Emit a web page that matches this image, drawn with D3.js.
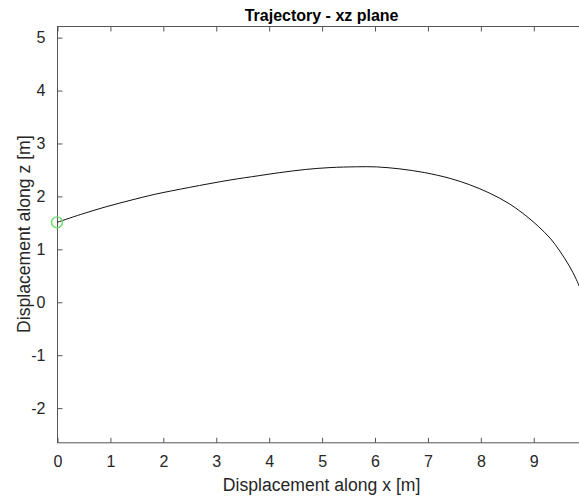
<!DOCTYPE html>
<html>
<head>
<meta charset="utf-8">
<script src="https://cdn.jsdelivr.net/npm/d3@7"></script>
<style>
  html, body { margin: 0; padding: 0; background: #fff; overflow: hidden; }
  svg { display: block; font-family: "Liberation Sans", Arial, Helvetica, sans-serif; }
</style>
</head>
<body>
<svg id="chart" width="579" height="500"></svg>
<script>
// Trajectory samples in the xz plane (metres)
const xValues = [0, 0.45, 0.91, 1.4, 1.85, 2.5, 3.27, 3.8, 4.21, 4.7, 5.16, 5.66, 6.04, 6.48, 6.95, 7.43, 7.8, 8.18, 8.55, 8.88, 9.1, 9.32, 9.5, 9.69, 9.8, 9.9];
const zValues = [1.5, 1.65, 1.79, 1.92, 2.03, 2.16, 2.30, 2.38, 2.44, 2.50, 2.535, 2.55, 2.548, 2.51, 2.44, 2.33, 2.21, 2.05, 1.85, 1.61, 1.42, 1.20, 0.96, 0.66, 0.45, 0.22];
const startPoint = [0, 1.5];

const xTicks = [0, 1, 2, 3, 4, 5, 6, 7, 8, 9];
const yTicks = [-2, -1, 0, 1, 2, 3, 4, 5];
const xDomain = [0, 10];
const yDomain = [-2.655, 5.21];

const titleText = "Trajectory - xz plane";
const xLabelText = "Displacement along x [m]";
const yLabelText = "Displacement along z [m]";

const svg = d3.select("#chart");
const box = { left: 57, right: 586.2, top: 26, bottom: 442.3 };

const x = d3.scaleLinear().domain(xDomain).range([box.left, box.right]);
const y = d3.scaleLinear().domain(yDomain).range([box.bottom, box.top]);

const axisColor = "#555";
const textColor = "#262626";
const tickLen = 5;
const fontStack = "'Liberation Sans', Arial, Helvetica, sans-serif";

svg.append("defs").append("clipPath").attr("id", "plotArea")
  .append("rect").attr("x", box.left).attr("y", box.top)
  .attr("width", box.right - box.left).attr("height", box.bottom - box.top);

// Axes box
svg.append("rect")
  .attr("x", box.left + 0.5).attr("y", box.top + 0.5)
  .attr("width", box.right - box.left).attr("height", box.bottom - box.top)
  .attr("fill", "none").attr("stroke", axisColor).attr("stroke-width", 1);

// Inward ticks, plain hyphen for negatives
const fmt = d => String(d);
const xBottom = d3.axisBottom(x).tickValues(xTicks).tickSizeInner(-tickLen).tickSizeOuter(0).tickPadding(13).tickFormat(fmt);
const xTop = d3.axisTop(x).tickValues(xTicks.concat([10])).tickSizeInner(-tickLen).tickSizeOuter(0).tickFormat("");
const yLeft = d3.axisLeft(y).tickValues(yTicks).tickSizeInner(-tickLen).tickSizeOuter(0).tickPadding(12).tickFormat(fmt);

function styleAxis(g) {
  g.select(".domain").remove();
  g.selectAll(".tick line").attr("stroke", axisColor);
  g.selectAll(".tick text").attr("fill", textColor)
    .style("font-size", "16px").style("font-family", fontStack);
}

svg.append("g").attr("transform", `translate(0.5,${box.bottom + 0.5})`).call(xBottom).call(styleAxis);
svg.append("g").attr("transform", `translate(0.5,${box.top + 0.5})`).call(xTop).call(styleAxis);
svg.append("g").attr("transform", `translate(${box.left + 0.5},0.5)`).call(yLeft).call(styleAxis);

// Trajectory line
const pts = xValues.map((v, i) => [v, zValues[i]]);
const line = d3.line().x(d => x(d[0])).y(d => y(d[1])).curve(d3.curveCatmullRom.alpha(0.5));
svg.append("path").datum(pts)
  .attr("clip-path", "url(#plotArea)")
  .attr("fill", "none").attr("stroke", "#111").attr("stroke-width", 1)
  .attr("d", line);

// Launch point marker
svg.append("circle")
  .attr("cx", x(startPoint[0])).attr("cy", y(startPoint[1])).attr("r", 5.5)
  .attr("fill", "none").attr("stroke", "#66dd66").attr("stroke-width", 1.4);

// Title and axis labels
svg.append("text").attr("x", (box.left + box.right) / 2).attr("y", 21)
  .attr("text-anchor", "middle").attr("font-weight", "bold")
  .style("font-size", "16px").attr("fill", "#000").text(titleText);

svg.append("text").attr("x", (box.left + box.right) / 2).attr("y", 491)
  .attr("text-anchor", "middle").style("font-size", "17.6px")
  .attr("fill", textColor).text(xLabelText);

svg.append("text")
  .attr("transform", `translate(30,${(box.top + box.bottom) / 2}) rotate(-90)`)
  .attr("text-anchor", "middle").style("font-size", "17.6px")
  .attr("fill", textColor).text(yLabelText);
</script>
</body>
</html>
